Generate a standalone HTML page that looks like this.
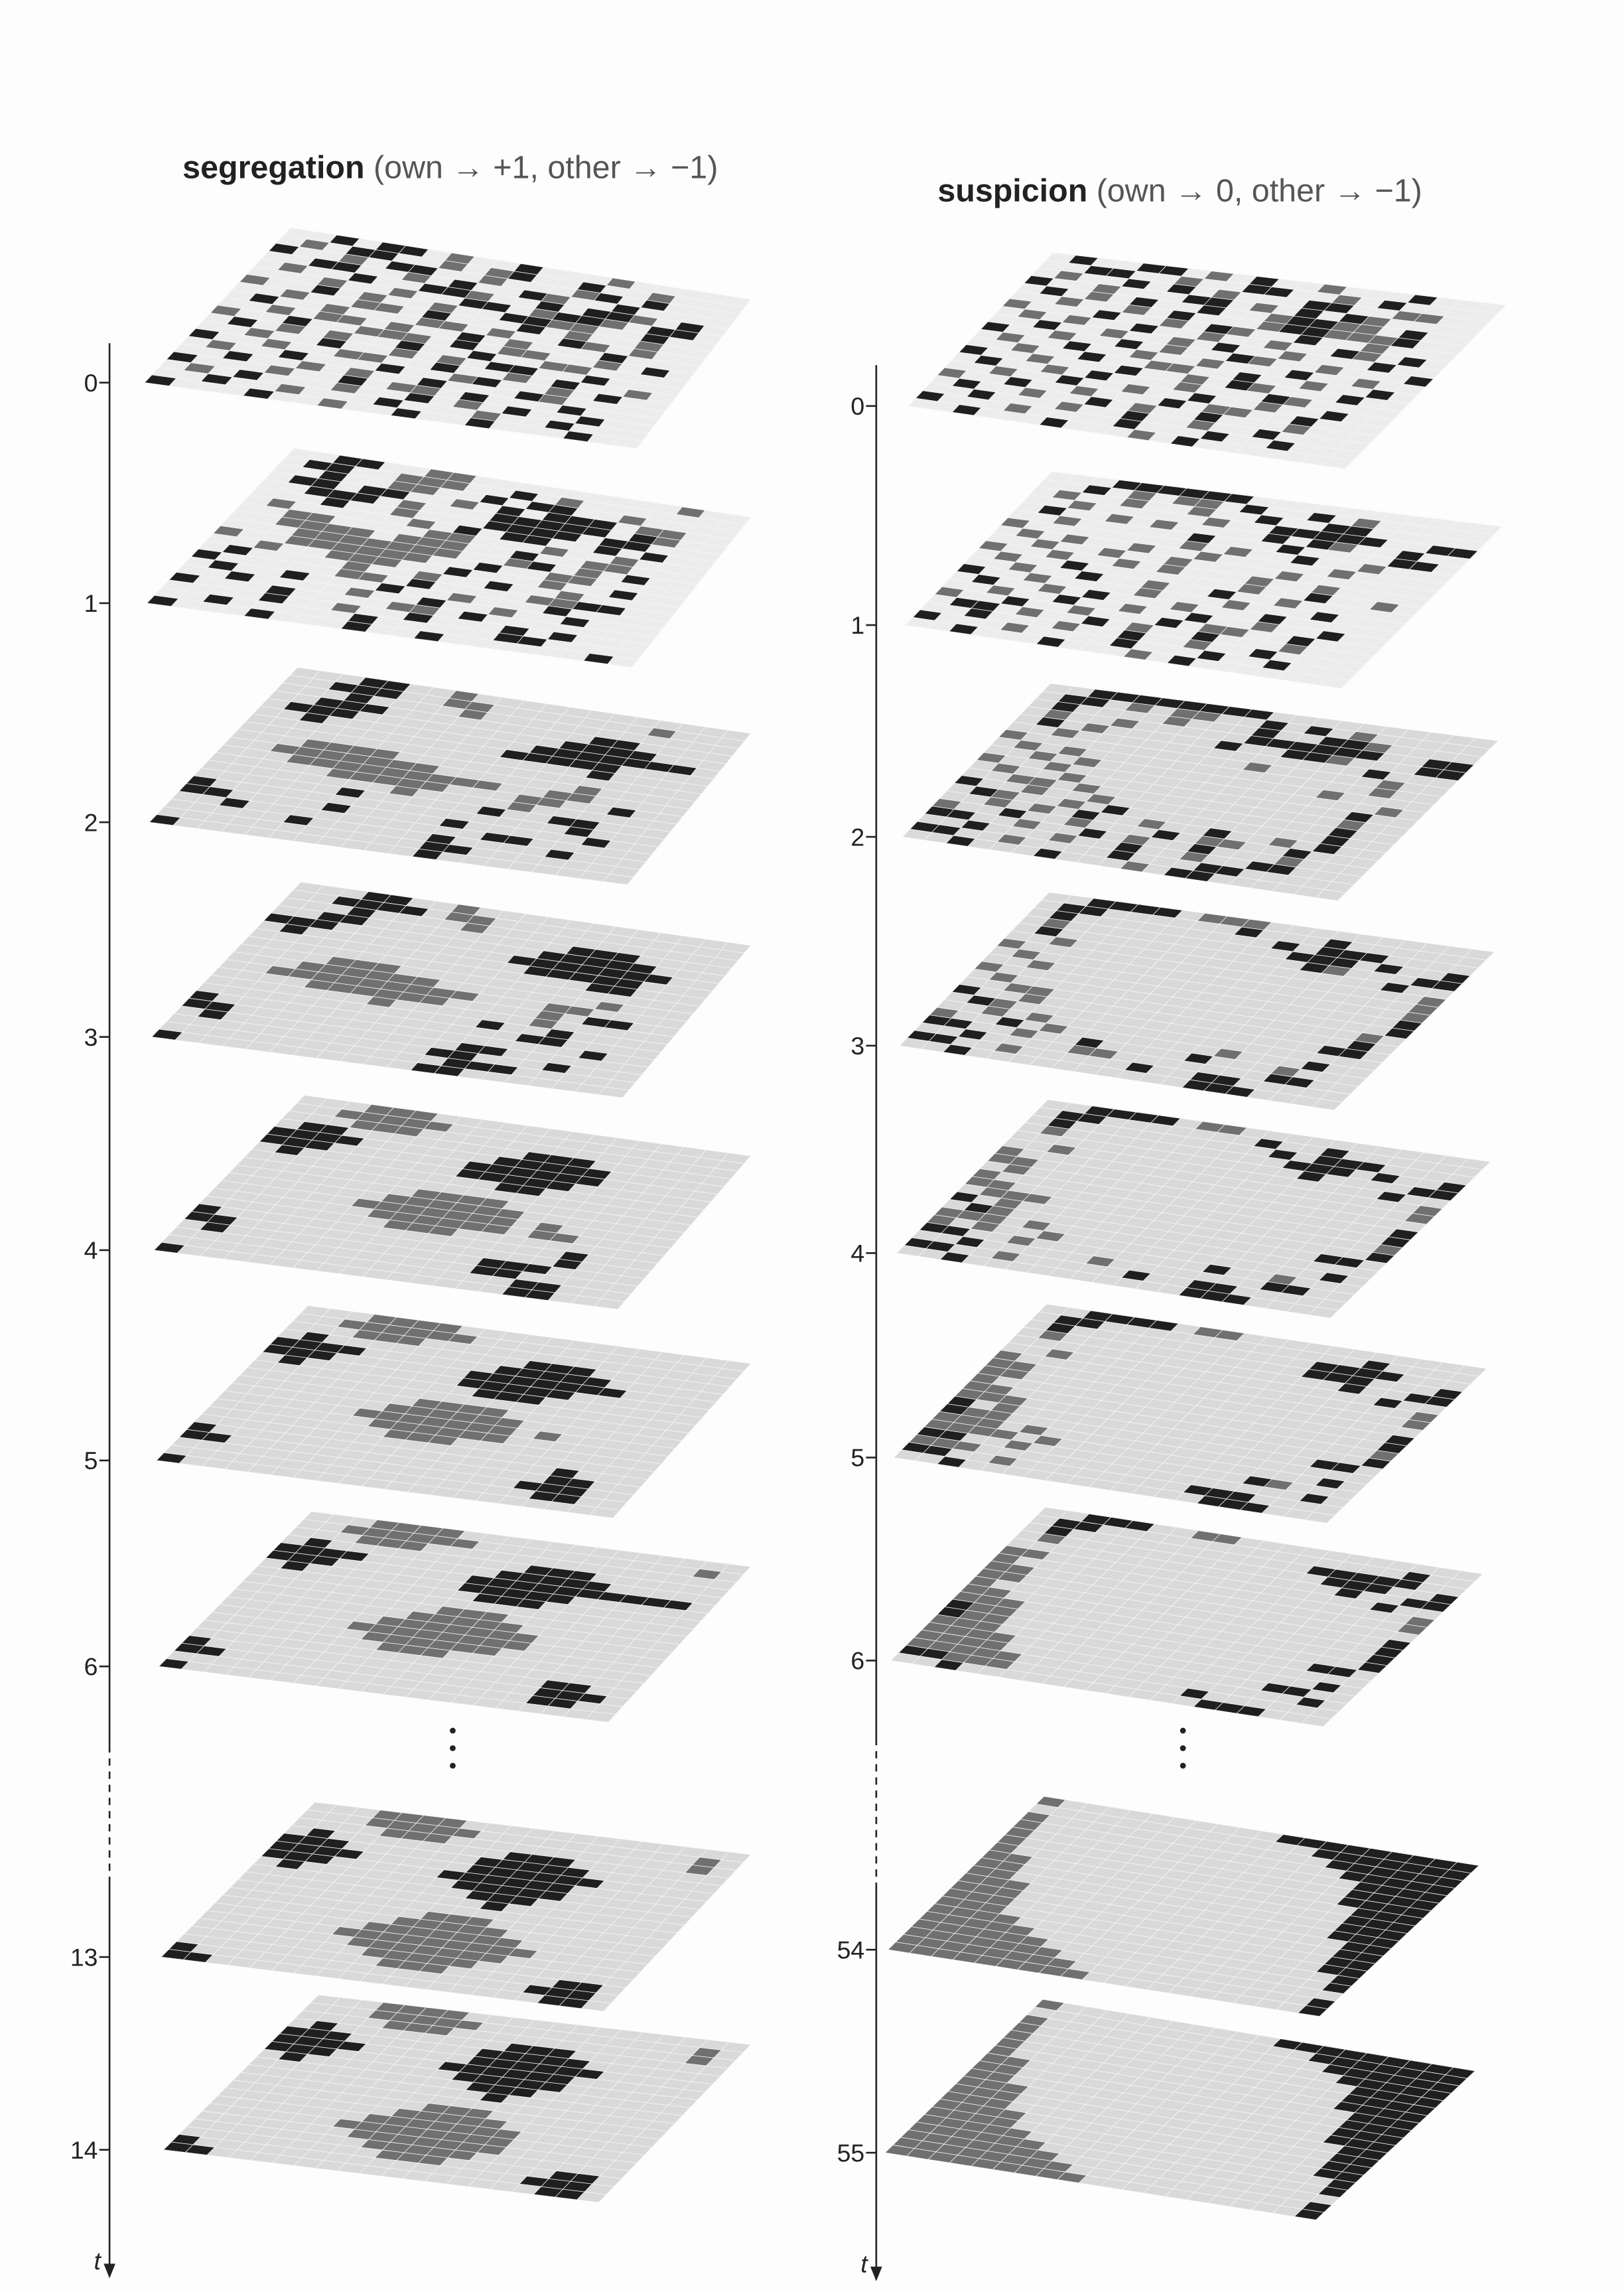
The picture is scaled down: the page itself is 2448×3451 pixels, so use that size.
<!DOCTYPE html>
<html><head><meta charset="utf-8"><style>
html,body{margin:0;padding:0;background:#fff;}
svg{display:block;}
text{font-family:"Liberation Sans",sans-serif;fill:#222;}
</style></head><body>
<svg id="fig" width="2448" height="3451" viewBox="0 0 1112 1568" preserveAspectRatio="none" xmlns="http://www.w3.org/2000/svg">
<rect x="0" y="0" width="1112" height="1568" fill="#fdfdfd"/>
<text x="125" y="122" font-size="22"><tspan font-weight="bold">segregation</tspan><tspan fill="#555"> (own → +1, other → −1)</tspan></text>
<text x="642" y="138" font-size="22"><tspan font-weight="bold">suspicion</tspan><tspan fill="#555"> (own → 0, other → −1)</tspan></text>
<g id="planes"></g>
<g id="axes"></g>
</svg>
<script>
const leftLabels = ['0','1','2','3','4','5','6','13','14'];
const rightLabels = ['0','1','2','3','4','5','6','54','55'];
const leftTickY = [262,413,563,710,856,1000,1141,1340,1472];
const rightTickY = [278,428,573,716,858,998,1137,1335,1474];

const seg0=["..x.xx.o..x...o.....",".o.xx..o.ox..x..o...","x..o.xx..o...ox.x...","..xx..o.x..xo..x....",".o..x..xxo..x.xxo.x.","...o..o..xx.oxxo.xx.","o..x.o..o..xxoo..x..","..o..oo.x...x.o..o..",".x..o...oo.o..xo.o..","..o.oo.o..x.o...x...","o..x..ooo.x.oo..o.x.",".x.o.o..x..x..oo....","..o..x..o.o.xx..x...","x..o..oo..x..o.x..o.",".o..x...x..ox..o.x..","..x..o.o..x...xo....","x...o..x.oo.x...x...",".o.x...o..x.o.x..x..","..x..o...x...o..x...","x...x..o..x..x...x.."];
const seg1=["..xx..oo.........o..",".xx..ooo..x.o.......","..x..oo..x.xx..o....",".xx.xx..o.x.xxx.oo..","..xxx.o...xxxxx.xo..","...x..o...xxxx.xx...",".o.....o.x.xx..x.x..","..oo....oo...o..o...","..oooo.ooo..x..oo...","...ooooooo..ox.o.x..","o..oooooo..x..oo....","..o..ooo..x...o..x..",".x....o..o..x..o....","x.....oo.x....ooxx..",".x..x...x..o...x....","..x....o..x..o..x...","x...x....oo.x.......","....x..o..x...x.x...","..x.....x.....xx....","x...x...x..x......x."];
const seg2=["...xx..o............","..xxx..oo.......o...","...x....o...........","..xxx.........xx....",".xxx.........xxxx...","..x.........xxxxxxx.","...........xxxxx....","...............x....","...oooo.............","..ooooooo......o....","...ooooooooo..oo....",".....ooooo...oo..x..","........o....o......","......x.....x..xx...","x...............x...","xx....x....x.....x..","..x..........xx.....",".....x.....x....x...","...........xx.......","x..........x........"];
const seg3=["...xx..o............","..xxxx.oo...........","...x....o...........","..xx.........xxx....","xxx.........xxxxx...",".x.........xxxxxxx..","............xxxxx...","...............xx...","....ooo.............","...oooooo.......o...","..ooooooooo...oo....","....oooooo....o.xx..",".......o......o.....","............x..x....","x.............xx....","xx...............x..",".x..........xx......","...........xx...x...","............xxx.....","x..........xx......."];
const seg4=["...ooo..............","..ooooo.............","...ooo..............",".xx........xxx......","xxxx......xxxxx.....","xxx......xxxxxx.....",".x.......xxxxx......","...........xx.......","....................","........oooo........",".......oooooo.......","......ooooooo.o.....",".......oooooo.oo....","........ooo.........","x...............x...","xx..............x...",".x...........xxx....",".............xx.....","...............xx...","x..............xx..."];
const seg5=["...oooo.............","..oooooo............","...ooo..............",".x.........xxx......","xxxx......xxxxx.....","xxx......xxxxxxx....",".x.......xxxxx......","..........xxx.......","....................","........oooo........",".......oooooo.......","......ooooooo.o.....",".......oooooo.......","........ooo.........","....................","x...............x...","xx..............xx..","...............xxx..","................xx..","x..................."];
const seg6=["...oooo.............","..oooooo..........o.","...ooo..............",".x.........xxx......","xxxx......xxxxx.....","xxx......xxxxxxxxxx.",".x.......xxxxx......","..........xxx.......","....................",".........ooo........","........ooooo.......",".......ooooooo......","......oooooooo......",".......oooooo.......","........ooo.........","....................","x...............xx..","xx..............xxx.","................xx..","x..................."];
const seg13=["...oooo.............","...ooooo..........o.","....ooo...........o.",".x........xxx.......","xxx......xxxxx......","xxxx.....xxxxxx.....","xxx.....xxxxxx......",".x.......xxxxx......","..........xxx.......","...........x........","....................",".........ooo........","........ooooo.......",".......ooooooo......","......ooooooooo.....",".......ooooooo......","........ooooo.......",".........ooo.....xx.","x...............xxx.","xx...............xx."];
const seg14=["...oooo.............","...ooooo..........o.","....ooo...........o.",".x........xxx.......","xxx......xxxxx......","xxxx.....xxxxxx.....","xxx.....xxxxxx......",".x.......xxxxx......","..........xxx.......","...........x........","....................",".........ooo........","........ooooo.......",".......ooooooo......","......oooooooo......",".......ooooooo......","........ooooo.......",".........ooo.....xx.","x...............xxx.","xx...............xx."];

const sus0=[".x..xx.o.x..o...x...","..xx..o..xx..o.x....",".o..x.x.o...xx..oo..","x..o...xx.o.x.xo....",".x.o.x..x..oxxoo.x..","..o..o.x...oxxooox..","o...x..o.xo..x..o...",".o.o..x..o..o..xo.x.","..x..o..o.x..o...x..","x..o..x.o..xo..o...x",".o..x..o..o...x..o..","..o..x..oo..x..o..x.","x..o...x..o.xo...x..",".x..o.x...o...xo....","..o..x..o..x..o..x..","o..x..o...x.oo..x...",".x..o..x.o..x...o...","..x...o..x..o..x....","x...o....x...x..x...","..x...x...o.x......."];
const sus1=["...xxxxxx...........","..x.o.oo.x..x.o.....",".o..o..o..x..xx.....","..o.....o..xxxxx..xx",".x..o.o....x.xo..x..","..o.....x...x....xx.","o.......o.o..x..o...",".o.o..o..o.....o....","..o..o..o....o......","o..o..o.o...o..o....",".o..x.......o..x..o.","..o..x..o..x..o.....","x..o....o...o...x...",".x..o.x...o...x.....","..o..x..o..x..o..x..","o..x..o...x.oo..x...",".xx.o..x.o..x...o...","..x...o..x..o..x....","x...o....x...x..x...","..x...x...o.x......."];
const sus2=["..xxxxxxxx..........",".xx.o.oo..x.x.o.....",".x....o...x..xxo....",".o..o.....xxxxxx..xx",".x.o.....x..xxo...xx","..o.............x...","o..........o.....o..",".o.o.............o..","..o.o..........o....","o..o..............o.",".o..o............x..","..oo.o...........o..","x..o..o..........x..",".xo..o.x.........x..","..o.o.x..o..x..o.x..","o..x..o...x.oo..x...","xx..o..x.o..x...o...","..x...o..x..o..xx...","xx..o....x...xx.....","..x...x...o.xx......"];
const sus3=["..xxxx.ooo..........",".xx......x...x......",".x.........x.xxx....",".o..........xxx.x..x",".x...........xo...xx","..o..............x..","o..................o",".o.................o","..o................o","o..................x",".o.................x","..oo..............o.","x..o..............x.",".xo..............xx.","..o.o...............","o..x.o.......o...x..","xx..o..x....x...o...","..x....oo.......xx..","xx..o.....x..xx.....","..x..........xxx...."];
const sus4=["..xxxx.oo...........",".xx.......x..x......",".x.........x.xxx....",".o..........xxx.x..x",".............x....xx","..o..............x..","o..................o","oo.................o",".o..................","o..................x","oo.................x",".ooo...............o","x.o................x",".xo..............xx.","ooo.o...............","o.o..o............x.","xx..o........x..o...","..x.....o.......xx..","xx..o.....x..xx.....","..x..........xxx...."];
const sus5=["..xxxx.oo...........",".xx............x....",".x...........xxxx...",".o...........xxx...x","...............x..xx","..o..............x..","o..................o","oo.................o","oo..................","o..................x","oo.................x","ooo................o","x.o................x","xoo..............xx.","ooo.o...............","oooo.o............x.","xx..o..........xo...","ooo...............x.","xx..o........xxx....","..x...........xxx..."];
const sus6=["..xxx..oo...........",".xx..............x..",".x...........xxxxx..",".o............xxx..x","...............x..xx","oo...............x..","o..................o","oo.................o","oo..................","o..................x","oo.................x","ooo................x","xoo................x","xoo..............xx.","ooo.................","oooo..............x.","oooo............xx..","ooooo.............x.","xxooo........x......","..x...........xxx..."];
const sus54=["o..........xxxxxxxxx",".............xxxxxxx","o.............xxxxxx","o..............xxxxx","o...............xxxx","o...............xxxx","o...............xxxx","oo...............xxx","oo...............xxx","oo...............xxx","ooo..............xxx","ooo...............xx","ooo...............xx","ooo...............xx","oooo..............xx","ooooo..............x","oooooo.............x","ooooooo.............","oooooooo...........x","ooooooooo..........x"];
const sus55=["o..........xxxxxxxxx",".............xxxxxxx","o.............xxxxxx","o..............xxxxx","o...............xxxx","o...............xxxx","o...............xxxx","oo...............xxx","oo...............xxx","oo...............xxx","ooo..............xxx","ooo...............xx","ooo...............xx","oooo..............xx","oooo..............xx","ooooo..............x","oooooo.............x","ooooooo.............","oooooooo...........x","ooooooooo..........x"];

const leftGrids=[seg0,seg1,seg2,seg3,seg4,seg5,seg6,seg13,seg14];
const rightGrids=[sus0,sus1,sus2,sus3,sus4,sus5,sus6,sus54,sus55];

const NS='http://www.w3.org/2000/svg';
const planes=document.getElementById('planes');
const axes=document.getElementById('axes');
function mk(tag,attrs,parent){const e=document.createElementNS(NS,tag);for(const k in attrs)e.setAttribute(k,attrs[k]);parent.appendChild(e);return e;}
function lerp(a,b,t){return [a[0]+(b[0]-a[0])*t,a[1]+(b[1]-a[1])*t];}

// plane geometry (layout only)
const geomL={bl0:99,bl1:112,tl0:[100,-106],tl1:[106,-106],tr0:[514,-57],tr1:[514,-72],br0:[436,45],br1:[410,36]};
const geomR={bl0:622,bl1:606,tl0:[99,-105],tl1:[108,-105],tr0:[1031,-69],tr1:[1010,-56],br0:[921,43],br1:[901,46]};

function drawPlane(grid,y,k,g,name,early){
  const f=k/8;
  const blx=g.bl0+(g.bl1-g.bl0)*f;
  const BL=[blx,y];
  const TL=[blx+g.tl0[0]+(g.tl1[0]-g.tl0[0])*f, y+g.tl0[1]+(g.tl1[1]-g.tl0[1])*f];
  const TR=[g.tr0[0]+(g.tr1[0]-g.tr0[0])*f, y+g.tr0[1]+(g.tr1[1]-g.tr0[1])*f];
  const BR=[g.br0[0]+(g.br1[0]-g.br0[0])*f, y+g.br0[1]+(g.br1[1]-g.br0[1])*f];
  const grp=mk('g',{},planes);
  
  
  const N=grid.length, M=20;
  function P(r,c){const u=c/M,v=r/N;return lerp(lerp(TL,TR,u),lerp(BL,BR,u),v);}
  const empty=early?'#ececec':'#d9d9d9';
  for(let r=0;r<N;r++){
    const row=grid[r];
    for(let c=0;c<M;c++){
      const ch=row[c]||'.';
      const fill=ch==='x'?'#1f1f1f':(ch==='o'?'#707070':empty);
      const a=P(r,c),b=P(r,c+1),d=P(r+1,c+1),e=P(r+1,c);
      const poly=mk('polygon',{points:[a,b,d,e].map(p=>p[0].toFixed(2)+','+p[1].toFixed(2)).join(' '),fill:fill,stroke:'#f6f6f6','stroke-width':'0.35'},grp);
      
      
    }
  }
}
for(let k=0;k<9;k++){
  drawPlane(leftGrids[k],leftTickY[k],k,geomL,'segregation-plane-t'+leftLabels[k],k<2);
  drawPlane(rightGrids[k],rightTickY[k],k,geomR,'suspicion-plane-t'+rightLabels[k],k<2);
}

function drawAxis(x,y0,y1,dash0,dash1,labels,ys,name,dotsX){
  const g=mk('g',{},axes);
  
  
  const l1=mk('line',{x1:x,y1:y0,x2:x,y2:dash0,stroke:'#222','stroke-width':1.2},g);
  
  
  const l2=mk('line',{x1:x,y1:dash0,x2:x,y2:dash1,stroke:'#222','stroke-width':1.2,'stroke-dasharray':'5,4'},g);
  
  
  const l3=mk('line',{x1:x,y1:dash1,x2:x,y2:y1-8,stroke:'#222','stroke-width':1.2},g);
  
  
  const ar=mk('polygon',{points:(x-4)+','+(y1-10)+' '+(x+4)+','+(y1-10)+' '+x+','+y1,fill:'#222'},g);
  
  
  const tl=mk('text',{x:x-6,y:y1-6,'font-size':17,'font-style':'italic','text-anchor':'end'},g);
  tl.textContent='t';
  
  
  for(let i=0;i<labels.length;i++){
    const tk=mk('line',{x1:x-7,y1:ys[i],x2:x,y2:ys[i],stroke:'#222','stroke-width':1.2},g);
    
    
    const t=mk('text',{x:x-8,y:ys[i]+6,'font-size':17,'text-anchor':'end',fill:'#333'},g);
    t.textContent=labels[i];
    
    
  }
  for(let j=0;j<3;j++){
    const d=mk('circle',{cx:dotsX,cy:1185+j*12,r:2,fill:'#222'},g);
    
    
  }
}
drawAxis(75,235,1560,1195,1290,leftLabels,leftTickY,'left-time-axis',310);
drawAxis(600,250,1562,1190,1290,rightLabels,rightTickY,'right-time-axis',810);
</script>
</body></html>
